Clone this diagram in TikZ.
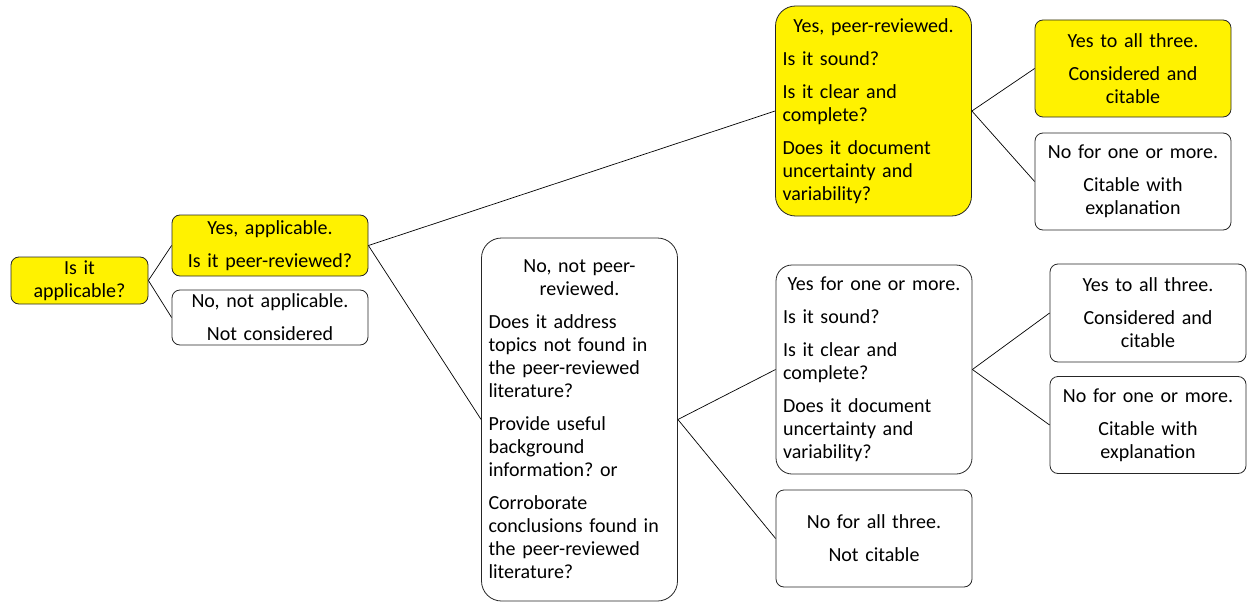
\documentclass[tikz,border=0pt]{standalone}
\usepackage{fontspec}
\setmainfont{Carlito}
\usepackage{tikz}

\begin{document}
\begin{tikzpicture}[x=1pt,y=-1pt]

\tikzset{answer/.style={
    draw=black!85, line width=0.8pt,
    rounded corners=#1,
    text width=182pt, inner xsep=7pt, inner ysep=3pt,
    minimum width=196pt,
    align=center,
    font=\fontsize{20}{23}\selectfont,
    execute at begin node={\setlength{\parskip}{10pt}\hyphenpenalty=10000\frenchspacing}
  },
  answer/.default=8pt,
  chosen/.style={fill=yellow},
  branch/.style={draw, line width=0.7pt}
}

\useasboundingbox (0,0) rectangle (1248,602);

\node[answer, chosen, text width=123pt, minimum width=137pt, minimum height=47pt] (applicable) at (79.5,280.5) {Is it\\applicable?};

\node[answer, chosen, minimum height=61pt] (yesapp) at (270,245.5) {Yes, applicable.\par Is it peer-reviewed?};
\node[answer, minimum height=55pt] (noapp) at (270,317.5) {No, not applicable.\par Not considered};

\node[answer=20pt, chosen, align=left, minimum height=210pt] (yespeer) at (873.5,111)
  {{\centering Yes, peer-reviewed.\par}
   Is it sound?\par
   Is it clear and complete?\par
   Does it document uncertainty and variability?};
\node[answer, chosen, minimum height=97pt] (yesall) at (1133,68.5) {Yes to all three.\par Considered and\\citable};
\node[answer, minimum height=97pt] (nosome) at (1133,181.5) {No for one or more.\par Citable with\\explanation};

\node[answer=20pt, align=left, minimum height=363pt] (nopeer) at (579.5,419.5)
  {{\centering No, not peer-\\reviewed.\par}
   Does it address\\topics not found in\\the peer-reviewed\\literature?\par
   Provide useful\\background\\information? or\par
   Corroborate\\conclusions found in\\the peer-reviewed\\literature?};

\node[answer=16pt, align=left, minimum height=209pt] (yessome) at (874,369.5)
  {{\centering Yes for one or more.\par}
   Is it sound?\par
   Is it clear and complete?\par
   Does it document uncertainty and variability?};
\node[answer, minimum height=97pt] (noall) at (874,538.5) {No for all three.\par Not citable};

\node[answer, minimum height=98pt] (yesall2) at (1148,313) {Yes to all three.\par Considered and\\citable};
\node[answer, minimum height=97pt] (nosome2) at (1148,425) {No for one or more.\par Citable with\\explanation};

\draw[branch] (applicable.east) -- (yesapp.west);
\draw[branch] (applicable.east) -- (noapp.west);
\draw[branch] (yesapp.east) -- (yespeer.west);
\draw[branch] (yesapp.east) -- (nopeer.west);
\draw[branch] (yespeer.east) -- (yesall.west);
\draw[branch] (yespeer.east) -- (nosome.west);
\draw[branch] (nopeer.east) -- (yessome.west);
\draw[branch] (nopeer.east) -- (noall.west);
\draw[branch] (yessome.east) -- (yesall2.west);
\draw[branch] (yessome.east) -- (nosome2.west);

\end{tikzpicture}
\end{document}
